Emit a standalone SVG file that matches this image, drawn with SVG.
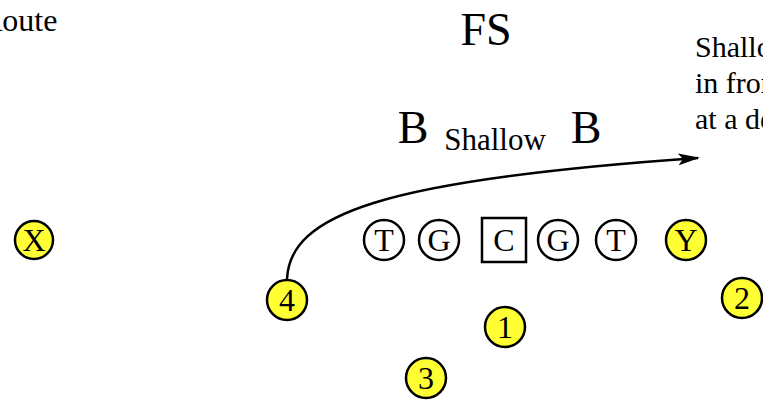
<svg xmlns="http://www.w3.org/2000/svg" width="763" height="400" viewBox="0 0 763 400">
<style>
text{font-family:"Liberation Serif","Times New Roman",serif;fill:#000}
.p{stroke:#000;stroke-width:2.5}
.y{fill:#ffff33}
.w{fill:#fff}
.l{font-size:32px;text-anchor:middle}
.big{font-size:46px}
.note{font-size:30px}
</style>
<defs>
<marker id="ah" viewBox="0 0 22 12" refX="20" refY="6" markerWidth="22" markerHeight="12" markerUnits="userSpaceOnUse" orient="auto">
<path d="M0,0 L22,6 L0,12 L5,6 Z" fill="#000"/>
</marker>
</defs>
<rect width="763" height="400" fill="#fff"/>
<text class="note" x="-19" y="31" style="font-size:32px">Route</text>
<text class="big" x="486" y="45" text-anchor="middle">FS</text>
<text class="big" x="413" y="143" text-anchor="middle">B</text>
<text class="note" x="495" y="150" text-anchor="middle" style="font-size:31px">Shallow</text>
<text class="big" x="586" y="143" text-anchor="middle">B</text>
<text class="note" x="695" y="57">Shallow</text>
<text class="note" x="695" y="93">in front</text>
<text class="note" x="695" y="129">at a depth</text>
<g id="connectors">
<path d="M287,279 C290,215 380,180 698,158" fill="none" stroke="#000" stroke-width="2.5" marker-end="url(#ah)"/>
</g>
<g id="X"><circle class="p y" cx="34" cy="240" r="19"/><text class="l" x="34" y="251">X</text></g>
<g id="T1"><circle class="p w" cx="384" cy="240" r="20"/><text class="l" x="384" y="251">T</text></g>
<g id="G1"><circle class="p w" cx="439" cy="240" r="20"/><text class="l" x="439" y="251">G</text></g>
<g id="C"><rect class="p w" x="482" y="218" width="44" height="44"/><text class="l" x="504" y="251">C</text></g>
<g id="G2"><circle class="p w" cx="558" cy="240" r="20"/><text class="l" x="558" y="251">G</text></g>
<g id="T2"><circle class="p w" cx="616" cy="240" r="20"/><text class="l" x="616" y="251">T</text></g>
<g id="Y"><circle class="p y" cx="686" cy="240" r="20"/><text class="l" x="686" y="251">Y</text></g>
<g id="n4"><circle class="p y" cx="287" cy="300" r="20"/><text class="l" x="287" y="311">4</text></g>
<g id="n2"><circle class="p y" cx="742" cy="298" r="20"/><text class="l" x="742" y="309">2</text></g>
<g id="n1"><circle class="p y" cx="505" cy="327" r="20"/><text class="l" x="505" y="338">1</text></g>
<g id="n3"><circle class="p y" cx="426" cy="378" r="20"/><text class="l" x="426" y="389">3</text></g>
</svg>
